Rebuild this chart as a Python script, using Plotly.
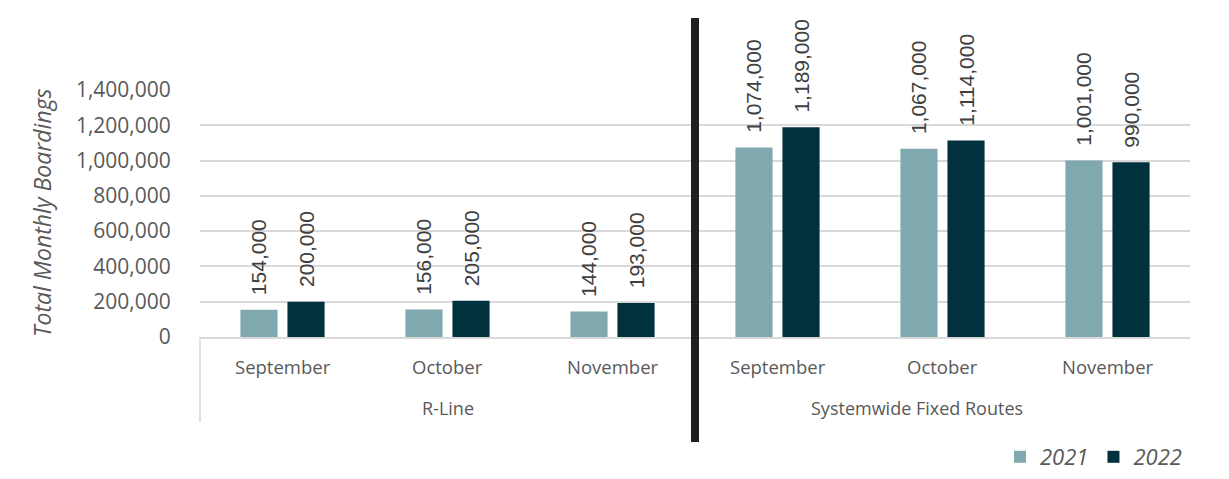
import plotly.graph_objects as go

groups = ["R-Line", "R-Line", "R-Line", "Systemwide Fixed Routes", "Systemwide Fixed Routes", "Systemwide Fixed Routes"]
months = ["September", "October", "November", "September", "October", "November"]
group_labels = ["R-Line", "Systemwide Fixed Routes"]
vals_2021 = [154000, 156000, 144000, 1074000, 1067000, 1001000]
vals_2022 = [200000, 205000, 193000, 1189000, 1114000, 990000]
y_ticks = [0, 200000, 400000, 600000, 800000, 1000000, 1200000, 1400000]

C21 = "#7fa9af"
C22 = "#01313d"
GRAY = "#595959"

L, R, T, B = 200, 39, 90, 142
W, H = 1229, 479
ph = H - T - B
pw = W - L - R

def py(pix):
    return (H - B - pix) / ph

def px(pix):
    return (pix - L) / pw

x = [groups, months]

fig = go.Figure()
for name, vals, col in [("2021", vals_2021, C21), ("2022", vals_2022, C22)]:
    fig.add_trace(go.Bar(
        x=x, y=vals, name=name, marker=dict(color=col, line=dict(width=0)),
        text=["\u00a0\u00a0" + f"{v:,}" for v in vals], textposition="outside", textangle=-90,
        constraintext="none", cliponaxis=False,
        textfont=dict(family="Liberation Sans, Arial", size=21, color="#404040"),
    ))

annotations = []
for i, m in enumerate(months):
    annotations.append(dict(x=(i + 0.5) / 6, xref="paper", y=py(366), yref="paper",
                            text=m, showarrow=False, xanchor="center", yanchor="middle",
                            font=dict(family="Open Sans", size=18.5, color=GRAY)))
annotations.append(dict(x=px(447.5), xref="paper", y=py(408), yref="paper", text=group_labels[0],
                        showarrow=False, xanchor="center", yanchor="middle",
                        font=dict(family="Open Sans", size=18, color=GRAY)))
annotations.append(dict(x=px(917), xref="paper", y=py(408), yref="paper", text=group_labels[1],
                        showarrow=False, xanchor="center", yanchor="middle",
                        font=dict(family="Open Sans", size=18, color=GRAY)))
annotations.append(dict(x=px(42), xref="paper", y=py(213), yref="paper", text="Total Monthly Boardings",
                        textangle=-90, showarrow=False, xanchor="center", yanchor="middle",
                        font=dict(family="Open Sans", size=23, color=GRAY, style="italic")))

shapes = [
    dict(type="line", xref="paper", yref="paper", x0=0, x1=0, y0=0, y1=py(422),
         line=dict(color="#d9d9d9", width=1.5)),
    dict(type="line", xref="paper", yref="paper", x0=0.5, x1=0.5, y0=py(442), y1=py(18),
         line=dict(color="#231f20", width=8)),
]

fig.update_layout(
    width=W, height=H, margin=dict(l=L, r=R, t=T, b=B, autoexpand=False),
    plot_bgcolor="white", paper_bgcolor="white",
    barmode="group", bargap=0.43, bargroupgap=0.21,
    annotations=annotations, shapes=shapes,
    legend=dict(orientation="h", x=px(1000), xanchor="left", y=py(478), yanchor="bottom",
                font=dict(family="Open Sans", size=22, color=GRAY, style="italic"),
                itemwidth=30, traceorder="normal", borderwidth=0,
                bgcolor="rgba(0,0,0,0)"),
    yaxis=dict(range=[0, 1400000], tickvals=y_ticks, tickformat=",", showgrid=True,
               gridcolor="#d9d9d9", gridwidth=1.5, zeroline=False, showline=False,
               ticks="outside", ticklen=24, tickcolor="rgba(0,0,0,0)",
               tickfont=dict(family="Open Sans", size=21, color=GRAY)),
    xaxis=dict(showticklabels=False, showline=True, linecolor="#d9d9d9", linewidth=1.5,
               showdividers=False, ticks=""),
)

fig.write_html("out.html", config={"displayModeBar": False},
               post_script="document.body.style.margin='0';document.body.style.overflow='hidden';")
